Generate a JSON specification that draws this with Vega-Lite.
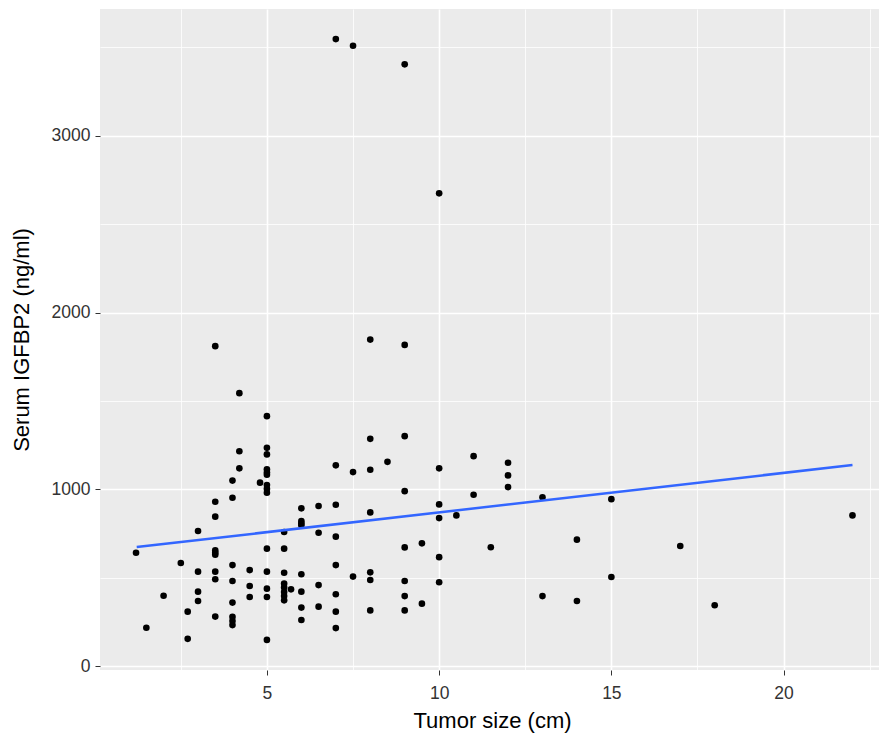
{
  "$schema": "https://vega.github.io/schema/vega-lite/v6.json",
  "width": 779,
  "height": 661,
  "autosize": {"type": "none"},
  "padding": {"left": 100, "top": 9, "right": 0, "bottom": 74},
  "background": "white",
  "config": {
    "font": "Liberation Sans",
    "view": {"fill": "#EBEBEB", "stroke": null}
  },
  "datasets": {
    "pts": [
      {"size": 1.2, "igfbp2": 642}, {"size": 1.5, "igfbp2": 218}, {"size": 2, "igfbp2": 399}, {"size": 2.5, "igfbp2": 584},
      {"size": 2.7, "igfbp2": 309}, {"size": 2.7, "igfbp2": 155},
      {"size": 3, "igfbp2": 765}, {"size": 3, "igfbp2": 535}, {"size": 3, "igfbp2": 422}, {"size": 3, "igfbp2": 369},
      {"size": 3.5, "igfbp2": 1810}, {"size": 3.5, "igfbp2": 930}, {"size": 3.5, "igfbp2": 846}, {"size": 3.5, "igfbp2": 655},
      {"size": 3.5, "igfbp2": 642}, {"size": 3.5, "igfbp2": 631}, {"size": 3.5, "igfbp2": 535}, {"size": 3.5, "igfbp2": 492}, {"size": 3.5, "igfbp2": 281},
      {"size": 4, "igfbp2": 1050}, {"size": 4, "igfbp2": 953}, {"size": 4, "igfbp2": 572}, {"size": 4, "igfbp2": 482},
      {"size": 4, "igfbp2": 360}, {"size": 4, "igfbp2": 279}, {"size": 4, "igfbp2": 256}, {"size": 4, "igfbp2": 233},
      {"size": 4.2, "igfbp2": 1544}, {"size": 4.2, "igfbp2": 1216}, {"size": 4.2, "igfbp2": 1119},
      {"size": 4.5, "igfbp2": 544}, {"size": 4.5, "igfbp2": 454}, {"size": 4.5, "igfbp2": 392},
      {"size": 4.8, "igfbp2": 1038},
      {"size": 5, "igfbp2": 1414}, {"size": 5, "igfbp2": 1235}, {"size": 5, "igfbp2": 1198}, {"size": 5, "igfbp2": 1113},
      {"size": 5, "igfbp2": 1095}, {"size": 5, "igfbp2": 1083}, {"size": 5, "igfbp2": 1025}, {"size": 5, "igfbp2": 1003},
      {"size": 5, "igfbp2": 981}, {"size": 5, "igfbp2": 665}, {"size": 5, "igfbp2": 535}, {"size": 5, "igfbp2": 439},
      {"size": 5, "igfbp2": 392}, {"size": 5, "igfbp2": 149},
      {"size": 5.5, "igfbp2": 759}, {"size": 5.5, "igfbp2": 665}, {"size": 5.5, "igfbp2": 529}, {"size": 5.5, "igfbp2": 467},
      {"size": 5.5, "igfbp2": 445}, {"size": 5.5, "igfbp2": 420}, {"size": 5.5, "igfbp2": 397}, {"size": 5.5, "igfbp2": 373},
      {"size": 5.7, "igfbp2": 435},
      {"size": 6, "igfbp2": 893}, {"size": 6, "igfbp2": 821}, {"size": 6, "igfbp2": 808}, {"size": 6, "igfbp2": 797},
      {"size": 6, "igfbp2": 520}, {"size": 6, "igfbp2": 422}, {"size": 6, "igfbp2": 332}, {"size": 6, "igfbp2": 262},
      {"size": 6.5, "igfbp2": 906}, {"size": 6.5, "igfbp2": 755}, {"size": 6.5, "igfbp2": 459}, {"size": 6.5, "igfbp2": 337},
      {"size": 7, "igfbp2": 3546}, {"size": 7, "igfbp2": 1136}, {"size": 7, "igfbp2": 913}, {"size": 7, "igfbp2": 733},
      {"size": 7, "igfbp2": 572}, {"size": 7, "igfbp2": 407}, {"size": 7, "igfbp2": 309}, {"size": 7, "igfbp2": 216},
      {"size": 7.5, "igfbp2": 3508}, {"size": 7.5, "igfbp2": 1098}, {"size": 7.5, "igfbp2": 507},
      {"size": 8, "igfbp2": 1847}, {"size": 8, "igfbp2": 1286}, {"size": 8, "igfbp2": 1111}, {"size": 8, "igfbp2": 870},
      {"size": 8, "igfbp2": 531}, {"size": 8, "igfbp2": 488}, {"size": 8, "igfbp2": 316},
      {"size": 8.5, "igfbp2": 1156},
      {"size": 9, "igfbp2": 3403}, {"size": 9, "igfbp2": 1817}, {"size": 9, "igfbp2": 1301}, {"size": 9, "igfbp2": 990},
      {"size": 9, "igfbp2": 672}, {"size": 9, "igfbp2": 482}, {"size": 9, "igfbp2": 397}, {"size": 9, "igfbp2": 316},
      {"size": 9.5, "igfbp2": 695}, {"size": 9.5, "igfbp2": 354},
      {"size": 10, "igfbp2": 2674}, {"size": 10, "igfbp2": 1119}, {"size": 10, "igfbp2": 915}, {"size": 10, "igfbp2": 838},
      {"size": 10, "igfbp2": 617}, {"size": 10, "igfbp2": 475},
      {"size": 10.5, "igfbp2": 853},
      {"size": 11, "igfbp2": 1188}, {"size": 11, "igfbp2": 970},
      {"size": 11.5, "igfbp2": 673},
      {"size": 12, "igfbp2": 1151}, {"size": 12, "igfbp2": 1079}, {"size": 12, "igfbp2": 1013},
      {"size": 13, "igfbp2": 955}, {"size": 13, "igfbp2": 397},
      {"size": 14, "igfbp2": 716}, {"size": 14, "igfbp2": 369},
      {"size": 15, "igfbp2": 945}, {"size": 15, "igfbp2": 505},
      {"size": 17, "igfbp2": 680}, {"size": 18, "igfbp2": 345}, {"size": 22, "igfbp2": 853}
    ],
    "fit": [
      {"size": 1.22, "igfbp2": 674},
      {"size": 22, "igfbp2": 1138}
    ]
  },
  "layer": [
    {
      "data": {"name": "pts"},
      "mark": {"type": "point", "filled": true, "shape": "circle", "size": 44, "color": "black", "opacity": 1},
      "encoding": {
        "x": {
          "field": "size", "type": "quantitative",
          "scale": {"domain": [0.154, 22.77], "nice": false, "zero": false},
          "axis": {"orient": "bottom", "values": [2.5, 7.5, 12.5, 17.5, 22.5], "grid": true, "gridColor": "white", "gridWidth": 0.8,
                   "labels": false, "ticks": false, "domain": false, "title": null}
        },
        "y": {
          "field": "igfbp2", "type": "quantitative",
          "scale": {"domain": [-21, 3716], "nice": false, "zero": false},
          "axis": {"orient": "left", "values": [500, 1500, 2500, 3500], "grid": true, "gridColor": "white", "gridWidth": 0.8,
                   "labels": false, "ticks": false, "domain": false, "title": null}
        }
      }
    },
    {
      "data": {"name": "fit"},
      "mark": {"type": "line", "color": "#3366FF", "strokeWidth": 2.5},
      "encoding": {
        "x": {
          "field": "size", "type": "quantitative",
          "scale": {"domain": [0.154, 22.77], "nice": false, "zero": false},
          "axis": {"orient": "bottom", "values": [5, 10, 15, 20], "format": "d", "grid": true, "gridColor": "white", "gridWidth": 1.6,
                   "domain": false, "ticks": true, "tickColor": "#333333", "tickSize": 5, "tickWidth": 1,
                   "labelFontSize": 17.5, "labelColor": "#333333", "labelPadding": 9,
                   "title": "Tumor size (cm)", "titleFontSize": 22, "titleFontWeight": "normal", "titleColor": "black",
                   "titleX": 392, "titleY": 57, "titleAlign": "center", "titleBaseline": "alphabetic"}
        },
        "y": {
          "field": "igfbp2", "type": "quantitative",
          "scale": {"domain": [-21, 3716], "nice": false, "zero": false},
          "axis": {"orient": "left", "values": [0, 1000, 2000, 3000], "format": "d", "grid": true, "gridColor": "white", "gridWidth": 1.6,
                   "domain": false, "ticks": true, "tickColor": "#333333", "tickSize": 5, "tickWidth": 1,
                   "labelFontSize": 17.5, "labelColor": "#333333", "labelPadding": 5,
                   "title": "Serum IGFBP2 (ng/ml)", "titleFontSize": 22, "titleFontWeight": "normal", "titleColor": "black",
                   "titleX": -72, "titleBaseline": "alphabetic"}
        }
      }
    }
  ],
  "resolve": {"axis": {"x": "independent", "y": "independent"}}
}
